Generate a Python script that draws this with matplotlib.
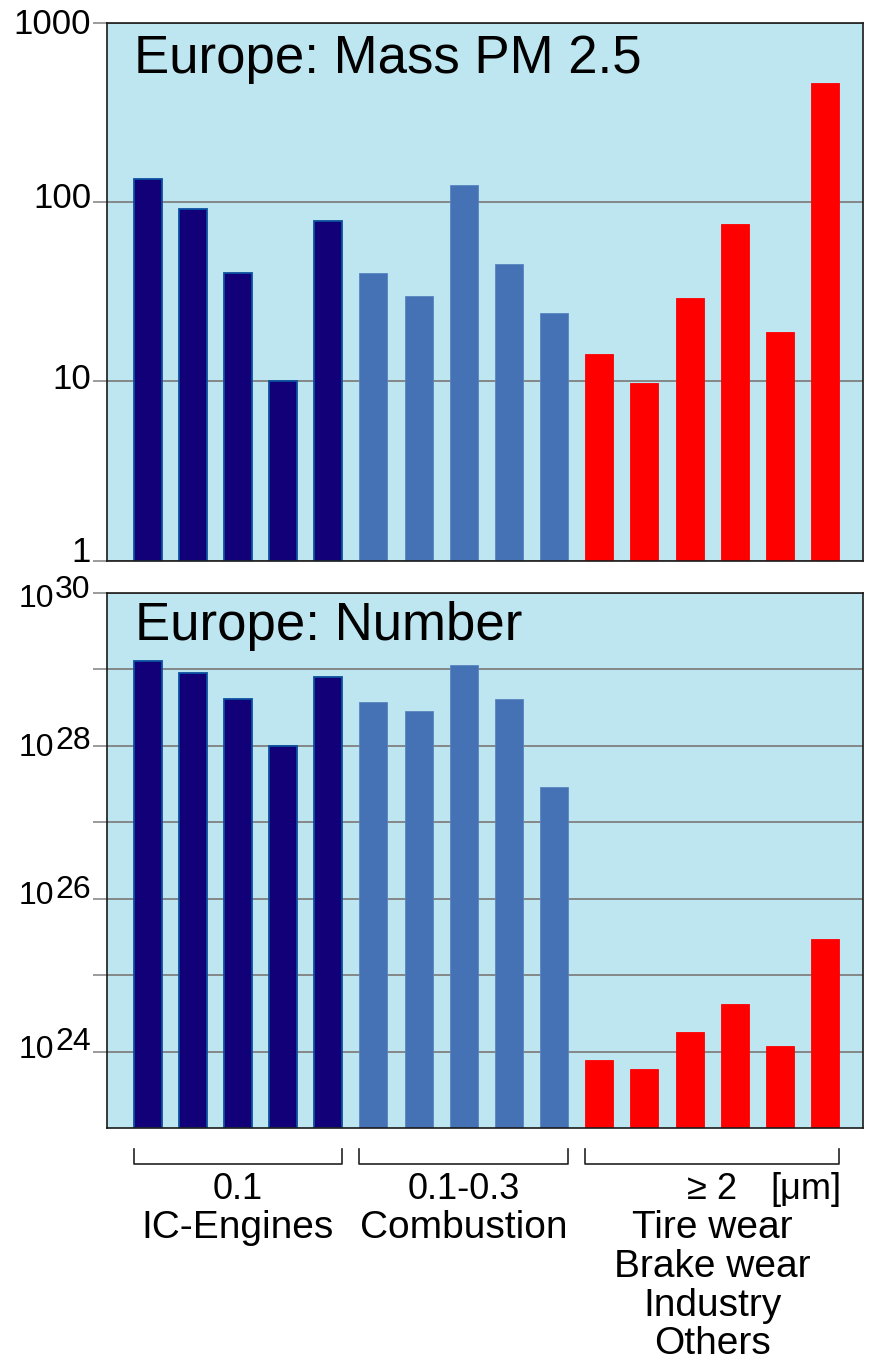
import numpy as np
import matplotlib
matplotlib.use("Agg")
import matplotlib.pyplot as plt
from matplotlib import transforms
from matplotlib.ticker import FixedLocator, NullFormatter, NullLocator

plt.rcParams['font.family'] = ['Liberation Sans', 'DejaVu Sans']

# PM 2.5 emissions in Europe by source, mass and particle number
mass_pm25 = [135, 91, 40, 10, 78, 40, 30, 124, 45, 24, 14.2, 9.8, 29.3, 75, 18.8, 460]
number = [1.29e29, 8.9e28, 4.06e28, 1.0e28, 7.9e28, 3.7e28, 2.9e28, 1.13e29,
          4.1e28, 2.9e27, 7.8e23, 6.0e23, 1.8e24, 4.2e24, 1.18e24, 3.0e25]
group_sizes = [5, 5, 6]
group_diameters = ['0.1', '0.1-0.3', '≥ 2']
group_sources = [['IC-Engines'], ['Combustion'],
                 ['Tire wear', 'Brake wear', 'Industry', 'Others']]
mass_ticks = [1, 10, 100, 1000]
mass_ticklabels = ['1', '10', '100', '1000']
number_exponents = [24, 26, 28, 30]

group_colors = ['#120078', '#4472B4', '#FF0000']
group_edges = ['#0B50A0', '#5A84C0', '#FF0000']
bg = '#BEE6F0'
grid_c = '#808080'

W, H = 869, 1360
fig = plt.figure(figsize=(W / 100, H / 100), dpi=100)


def fx(px):
    return px / W


def fy(py):
    return 1 - py / H


def shifted(tr, dy_px):
    # vertical shift in pixels (positive = up)
    return tr + transforms.ScaledTranslation(0, dy_px / 100, fig.dpi_scale_trans)


ax_l, ax_r = 107, 863
ax1 = fig.add_axes([fx(ax_l), fy(560.6), (ax_r - ax_l) / W, (560.6 - 22.7) / H])
ax2 = fig.add_axes([fx(ax_l), fy(1128), (ax_r - ax_l) / W, (1128 - 593) / H])

x = np.arange(len(mass_pm25))
colors, edges = [], []
for c, e, n in zip(group_colors, group_edges, group_sizes):
    colors += [c] * n
    edges += [e] * n
bar_w = 0.62


def style_axes(ax, lo, hi, ticks):
    ax.set_facecolor(bg)
    ax.set_yscale('log')
    ax.set_ylim(lo, hi)
    ax.set_xlim(-0.897, 15.84)
    ax.xaxis.set_major_locator(NullLocator())
    ax.yaxis.set_minor_locator(NullLocator())
    ax.yaxis.set_major_locator(FixedLocator(ticks))
    ax.yaxis.set_major_formatter(NullFormatter())
    ax.set_axisbelow(True)
    ax.grid(axis='y', which='major', color=grid_c, lw=1.3)
    ax.tick_params(axis='y', which='major', length=10, width=1.1, color=grid_c)
    for s in ax.spines.values():
        s.set_color('#1a1a1a')
        s.set_linewidth(1.2)


def draw_bars(ax, values, lo):
    vals = np.array(values, dtype=float)
    lws = [1.3 if c == group_colors[0] else 0.6 for c in colors]
    ax.bar(x, vals - lo, bottom=lo, width=bar_w, color=colors,
           edgecolor=edges, linewidth=lws, zorder=2)


# Mass panel
style_axes(ax1, 1, 1000, mass_ticks)
draw_bars(ax1, mass_pm25, 1)
fig.text(fx(134), fy(73), 'Europe: Mass PM 2.5', fontsize=38, va='baseline', ha='left')

lab1 = transforms.blended_transform_factory(fig.transFigure, ax1.transData)
mass_label_dy = {1: 8, 10: 2, 100: 3, 1000: -2}
for v, s in zip(mass_ticks, mass_ticklabels):
    fig.text(fx(91), v, s, transform=shifted(lab1, mass_label_dy[v]), fontsize=25,
             ha='right', va='center')

# Number panel
style_axes(ax2, 1e23, 1e30, [10.0 ** k for k in range(24, 31)])
draw_bars(ax2, number, 1e23)
fig.text(fx(135), fy(640), 'Europe: Number', fontsize=38, va='baseline', ha='left')

lab2 = transforms.blended_transform_factory(fig.transFigure, ax2.transData)
base_dy = {24: 2, 26: 3, 28: -2, 30: -6}
exp_dy = {24: 10, 26: 9, 28: 5, 30: 3}
for k in number_exponents:
    fig.text(fx(54), 10.0 ** k, '10', transform=shifted(lab2, base_dy[k]), fontsize=23,
             ha='right', va='center')
    fig.text(fx(55), 10.0 ** k, str(k), transform=shifted(lab2, exp_dy[k]), fontsize=23,
             ha='left', va='center')

# Group brackets and labels below the number panel
br_tr = transforms.blended_transform_factory(ax2.transData, fig.transFigure)
start = 0
for n, diam, sources in zip(group_sizes, group_diameters, group_sources):
    x0 = start - bar_w / 2
    x1 = start + n - 1 + bar_w / 2
    fig.add_artist(plt.Line2D([x0, x0, x1, x1], [fy(1149), fy(1164), fy(1164), fy(1149)],
                              transform=br_tr, color='#222222', lw=1.2))
    xc = (x0 + x1) / 2
    fig.text(xc, fy(1199), diam, transform=br_tr, fontsize=26,
             ha='center', va='baseline')
    for i, s in enumerate(sources):
        fig.text(xc, fy(1238 + 38.8 * i), s, transform=br_tr, fontsize=28,
                 ha='center', va='baseline')
    start += n
fig.text(x[-1] + bar_w / 2 + 0.05, fy(1199), '[μm]', transform=br_tr, fontsize=26,
         ha='right', va='baseline')

fig.savefig('out.png', dpi=100)
